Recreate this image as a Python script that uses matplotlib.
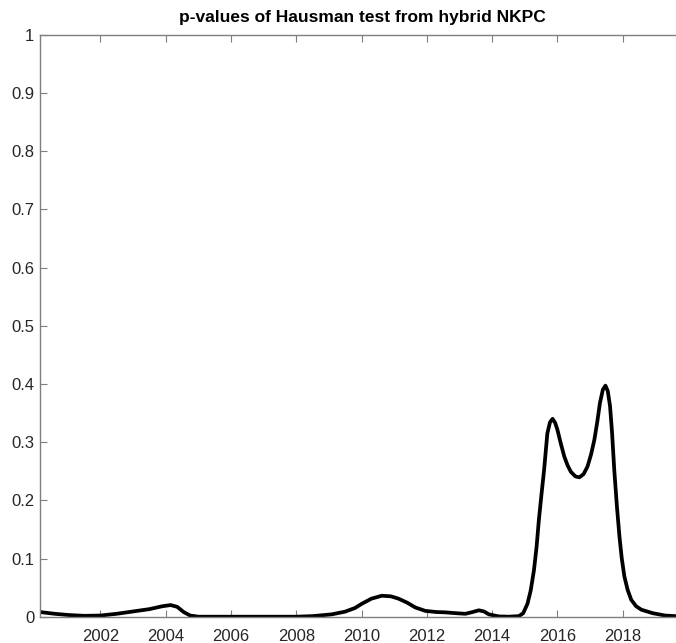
import numpy as np
from matplotlib import pyplot as plt

# p-values of the Hausman test, hybrid NKPC (dates as decimal years)
years = [2000.15, 2000.6, 2001.0, 2001.5, 2002.0, 2002.5, 2003.0, 2003.5, 2003.9, 2004.15,
         2004.35, 2004.55, 2004.75, 2005.0, 2006.0, 2007.0, 2008.0, 2008.5, 2009.08, 2009.49,
         2009.8, 2010.0, 2010.3, 2010.62, 2010.9, 2011.13, 2011.4, 2011.64, 2011.95, 2012.3,
         2012.56, 2012.9, 2013.18, 2013.4, 2013.59, 2013.75, 2013.9, 2014.2, 2014.5, 2014.82,
         2014.95, 2015.08, 2015.18, 2015.28, 2015.36, 2015.43, 2015.51, 2015.59, 2015.69, 2015.77,
         2015.85, 2015.93, 2016.0, 2016.1, 2016.21, 2016.31, 2016.41, 2016.55, 2016.67, 2016.8,
         2016.92, 2017.03, 2017.13, 2017.22, 2017.30, 2017.39, 2017.47, 2017.54, 2017.61, 2017.67,
         2017.74, 2017.82, 2017.90, 2017.97, 2018.05, 2018.15, 2018.26, 2018.41, 2018.57, 2018.92,
         2019.3, 2019.9]
pvals = [0.008, 0.005, 0.003, 0.0015, 0.002, 0.005, 0.009, 0.013, 0.018, 0.020,
         0.017, 0.008, 0.002, 0.0, 0.0, 0.0, 0.0, 0.001, 0.004, 0.0086,
         0.015, 0.022, 0.031, 0.036, 0.035, 0.031, 0.024, 0.016, 0.010, 0.008,
         0.0075, 0.006, 0.005, 0.008, 0.011, 0.009, 0.004, 0.0005, 0.0, 0.001,
         0.006, 0.022, 0.045, 0.080, 0.120, 0.166, 0.210, 0.252, 0.315, 0.334,
         0.340, 0.333, 0.321, 0.298, 0.275, 0.260, 0.249, 0.241, 0.2395, 0.245,
         0.258, 0.279, 0.304, 0.335, 0.367, 0.390, 0.397, 0.388, 0.362, 0.318,
         0.252, 0.190, 0.137, 0.100, 0.069, 0.046, 0.029, 0.018, 0.012, 0.006,
         0.002, 0.0]

xticks = list(range(2002, 2019, 2))
yticks = np.round(np.arange(0, 1.01, 0.1), 1)
ylabels = ["0"] + ["%.1f" % v for v in yticks[1:-1]] + ["1"]

plt.rcParams['font.family'] = ['Liberation Sans', 'DejaVu Sans']
fig = plt.figure(figsize=(6.76, 6.43), dpi=100)
ax = fig.add_axes([0.0592, 0.0409, 0.9538, 0.9051])

ax.plot(years, pvals, color="black", linewidth=2.7, solid_joinstyle="round")

ax.set_xlim(2000.15, 2019.9)
ax.set_ylim(0, 1)
ax.set_xticks(xticks)
ax.set_xticklabels([str(t) for t in xticks])
ax.set_yticks(yticks)
ax.set_yticklabels(ylabels)
ax.tick_params(direction="in", length=5, width=0.8, colors="#7f7f7f",
               labelcolor="#262626", labelsize=12, top=True, right=True)
ax.tick_params(axis="x", pad=9)
ax.tick_params(axis="y", pad=4)
for s in ax.spines.values():
    s.set_color("#7f7f7f")
    s.set_linewidth(1.0)

ax.set_title("p-values of Hausman test from hybrid NKPC", fontsize=12.5,
             fontweight="bold", color="black", pad=9)

fig.savefig("out.png", dpi=100)
